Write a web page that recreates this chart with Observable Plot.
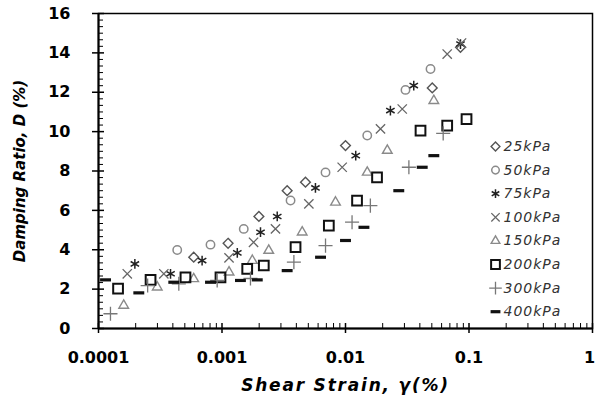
<!DOCTYPE html>
<html>
<head>
<meta charset="utf-8">
<script src="https://cdn.jsdelivr.net/npm/d3@7"></script>
<script src="https://cdn.jsdelivr.net/npm/@observablehq/plot@0.6"></script>
<style>
  html, body { margin: 0; padding: 0; background: white; overflow: hidden; }
  #chart svg { display: block; }
</style>
</head>
<body>
<div id="chart"></div>
<script>
// ---- data (shear strain in %, damping ratio in %) ----
const labels = ["25kPa", "50kPa", "75kPa", "100kPa", "150kPa", "200kPa", "300kPa", "400kPa"];

const strain25 = [5.9e-4, 1.12e-3, 1.99e-3, 3.37e-3, 4.74e-3, 0.01, 0.0504, 0.0853];
const damping25 = [3.62, 4.33, 5.69, 7.0, 7.43, 9.29, 12.22, 14.28];

const strain50 = [4.34e-4, 8.07e-4, 1.5e-3, 3.59e-3, 6.89e-3, 0.015, 0.0306, 0.0488];
const damping50 = [3.99, 4.26, 5.06, 6.5, 7.93, 9.8, 12.12, 13.18];

const strain75 = [1.97e-4, 3.83e-4, 6.9e-4, 1.33e-3, 2.05e-3, 2.8e-3, 5.71e-3, 0.0121, 0.0231, 0.0357, 0.0853];
const damping75 = [3.28, 2.78, 3.45, 3.84, 4.89, 5.69, 7.14, 8.78, 11.07, 12.34, 14.45];

const strain100 = [1.71e-4, 3.38e-4, 1.14e-3, 1.8e-3, 2.71e-3, 5.05e-3, 9.4e-3, 0.0192, 0.0288, 0.0666, 0.087];
const damping100 = [2.78, 2.78, 3.59, 4.38, 5.06, 6.33, 8.19, 10.14, 11.15, 13.94, 14.5];

const strain150 = [1.6e-4, 2.99e-4, 5.9e-4, 1.14e-3, 1.76e-3, 2.39e-3, 4.46e-3, 8.3e-3, 0.015, 0.0218, 0.0519];
const damping150 = [1.17, 2.1, 2.52, 2.86, 3.45, 3.96, 4.89, 6.41, 7.93, 9.04, 11.57];

const strain200 = [1.44e-4, 2.64e-4, 5.06e-4, 9.72e-4, 1.6e-3, 2.18e-3, 3.94e-3, 7.33e-3, 0.0124, 0.018, 0.0405, 0.0666, 0.0955];
const damping200 = [2.02, 2.47, 2.6, 2.6, 3.03, 3.2, 4.13, 5.23, 6.5, 7.68, 10.05, 10.3, 10.64];

const strain300 = [1.25e-4, 2.5e-4, 4.47e-4, 9.14e-4, 1.7e-3, 3.82e-3, 6.89e-3, 0.0113, 0.0159, 0.0326, 0.0618];
const damping300 = [0.75, 2.18, 2.27, 2.44, 2.54, 3.37, 4.21, 5.4, 6.24, 8.19, 9.91];

const strain400 = [1.14e-4, 2.12e-4, 4.07e-4, 8.07e-4, 1.41e-3, 1.93e-3, 3.37e-3, 6.28e-3, 0.01, 0.0141, 0.027, 0.0418, 0.0519];
const damping400 = [2.47, 1.81, 2.35, 2.35, 2.44, 2.47, 2.94, 3.62, 4.47, 5.14, 7.0, 8.19, 8.78];

const xTickValues = [0.0001, 0.001, 0.01, 0.1, 1];
const xTickLabels = ["0.0001", "0.001", "0.01", "0.1", "1"];
const yTickValues = [0, 2, 4, 6, 8, 10, 12, 14, 16];
const xTitle = "Shear Strain, γ(%)";
const yTitle = "Damping Ratio, D (%)";

// ---- build ----
const strains = [strain25, strain50, strain75, strain100, strain150, strain200, strain300, strain400];
const dampings = [damping25, damping50, damping75, damping100, damping150, damping200, damping300, damping400];

const bar = {
  draw(context, size) {
    const w = Math.sqrt(size) * 0.7;
    context.rect(-w, -1.6, 2 * w, 3.2);
  }
};

const styles = [
  {symbol: "diamond2", r: 4.4, stroke: "#555", fill: "none", strokeWidth: 1.4},
  {symbol: "circle", r: 4.2, stroke: "#8a8a8a", fill: "none", strokeWidth: 1.5},
  {symbol: "asterisk", r: 4.6, stroke: "#222", fill: "none", strokeWidth: 1.5},
  {symbol: "times", r: 4.3, stroke: "#666", fill: "none", strokeWidth: 1.3},
  {symbol: "triangle2", r: 4.6, stroke: "#8a8a8a", fill: "none", strokeWidth: 1.4},
  {symbol: "square2", r: 6.2, stroke: "#111", fill: "none", strokeWidth: 2},
  {symbol: "plus", r: 4.6, stroke: "#777", fill: "none", strokeWidth: 1.3},
  {symbol: bar, r: 4.4, stroke: "none", fill: "#111", strokeWidth: 0}
];

const rows = [];
labels.forEach((lab, i) => {
  strains[i].forEach((x, j) => rows.push({series: i, x, y: dampings[i][j]}));
});

const W = 596, H = 401;
const mL = 98, mR = 4, mT = 13, mB = 73;
const fw = W - mL - mR, fh = H - mT - mB;

const yMinor = [];
for (let k = 0; k < 8; k++) for (let m = 1; m < 6; m++) yMinor.push(k * 2 + m * (2 / 6));
const xMinor = [];
for (let e = -4; e < 0; e++) for (let m = 2; m <= 9; m++) xMinor.push(m * Math.pow(10, e));

const marks = [];
// points
styles.forEach((s, i) => {
  marks.push(Plot.dot(rows.filter(d => d.series === i), {
    x: "x", y: "y", symbol: () => s.symbol, r: s.r,
    stroke: s.stroke, fill: s.fill, strokeWidth: s.strokeWidth
  }));
});
// frame and axes
marks.push(Plot.frame({stroke: "black", strokeWidth: 1.5}));
marks.push(Plot.ruleX([1e-4], {stroke: "black", strokeWidth: 2}));
marks.push(Plot.ruleY([0], {stroke: "black", strokeWidth: 2}));
marks.push(Plot.tickY(yTickValues, {y: d => d, insetRight: fw - 12, dx: -6, stroke: "black", strokeWidth: 1.5}));
marks.push(Plot.tickY(yMinor, {y: d => d, insetRight: fw - 5, stroke: "black", strokeWidth: 1}));
marks.push(Plot.tickX(xTickValues, {x: d => d, insetTop: fh - 10, dy: 5, stroke: "black", strokeWidth: 1.5}));
marks.push(Plot.tickX(xMinor, {x: d => d, insetTop: fh - 5, stroke: "black", strokeWidth: 1}));
marks.push(Plot.text(yTickValues, {y: d => d, frameAnchor: "left", dx: -28, textAnchor: "end", lineAnchor: "middle",
  text: d => String(d), fontSize: 16, fontWeight: "bold", fill: "black"}));
marks.push(Plot.text(xTickValues.slice(0, 4), {x: d => d, frameAnchor: "bottom", dy: 29, lineAnchor: "middle", textAnchor: "middle",
  text: (d, i) => xTickLabels[i], fontSize: 16, fontWeight: "bold", fill: "black"}));
marks.push(Plot.text(xTickValues.slice(4), {x: d => d, frameAnchor: "bottom", dy: 29, dx: -3, lineAnchor: "middle", textAnchor: "middle",
  text: (d, i) => xTickLabels[4 + i], fontSize: 16, fontWeight: "bold", fill: "black"}));
marks.push(Plot.text([xTitle], {frameAnchor: "bottom", dy: 57, lineAnchor: "middle", textAnchor: "middle",
  text: d => d, fontSize: 17, fontWeight: "bold", fontStyle: "italic", fill: "black"}));
marks.push(Plot.text([yTitle], {frameAnchor: "left", dx: -78, rotate: -90, lineAnchor: "middle", textAnchor: "middle",
  text: d => d, fontSize: 15, fontWeight: "bold", fontStyle: "italic", fill: "black"}));
// legend
labels.forEach((lab, i) => {
  const s = styles[i];
  const dy = 133 + 23.6 * i;
  marks.push(Plot.dot([lab], {frameAnchor: "top-right", dx: -97, dy, symbol: () => s.symbol, r: s.r * 0.9,
    stroke: s.stroke, fill: s.fill, strokeWidth: s.strokeWidth}));
  marks.push(Plot.text([lab], {frameAnchor: "top-right", dx: -89, dy, text: d => d, textAnchor: "start", lineAnchor: "middle",
    fontSize: 14, fontStyle: "italic", fill: "#333"}));
});

const chart = Plot.plot({
  width: W, height: H,
  marginLeft: mL, marginRight: mR, marginTop: mT, marginBottom: mB,
  x: {type: "log", domain: [1e-4, 1], axis: null},
  y: {domain: [0, 16], axis: null},
  style: {fontFamily: "'DejaVu Sans', sans-serif", background: "white", overflow: "visible"},
  marks
});
document.getElementById("chart").appendChild(chart);

d3.select(chart).selectAll("text").each(function() {
  const t = this.textContent;
  if (t === xTitle) this.setAttribute("letter-spacing", "1.8");
  if (labels.includes(t)) this.setAttribute("letter-spacing", "1");
});
</script>
</body>
</html>
